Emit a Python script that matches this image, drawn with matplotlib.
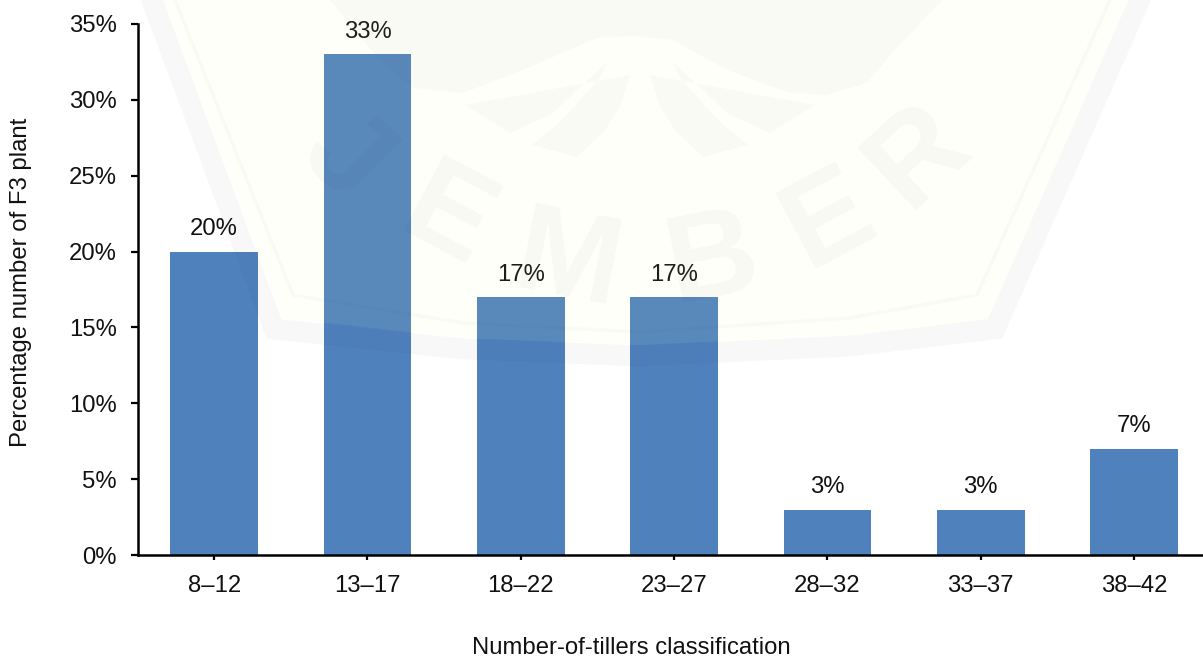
import matplotlib
matplotlib.use("Agg")
import matplotlib.pyplot as plt

categories = ["8–12", "13–17", "18–22", "23–27", "28–32", "33–37", "38–42"]
values = [20, 33, 17, 17, 3, 3, 7]
y_ticks = [0, 5, 10, 15, 20, 25, 30, 35]

# marca d'água: contornos em pixels da imagem original
shield_fill = [(1128, 0), (988, 320), (850, 335), (640, 345), (463, 338), (283, 318), (163, 0)]
shield_band = [(1142, -5), (995, 329), (850, 346), (640, 356), (463, 349), (274, 329), (150, -5)]
shield_line = [(1110, 0), (977, 295), (850, 318), (640, 332), (463, 323), (293, 295), (175, 0)]
ribbon = [(330, 0), (377, 57), (413, 88), (463, 93), (530, 67), (597, 38), (634, 36), (673, 40),
          (727, 70), (790, 93), (827, 95), (867, 83), (897, 47), (943, 0)]
wing_a = [(815, 105), (770, 133), (727, 113), (673, 62), (680, 78), (720, 122), (748, 145),
          (703, 157), (677, 133), (660, 107), (650, 75)]
wing_b = [(1280 - px, py) for px, py in wing_a]
letters = [("J", 353, 150, -45), ("E", 453, 210, -28), ("M", 570, 253, -11),
           ("B", 710, 250, 11), ("E", 823, 210, 28), ("R", 910, 147, 43)]

plt.rcParams["font.family"] = ["Liberation Sans", "DejaVu Sans"]
font_size = 17.2

fig = plt.figure(figsize=(12.03, 6.57), dpi=100)
# eixos posicionados em pixels da imagem original
ax = fig.add_axes([137.5 / 1203, 1 - 555.3 / 657, (1203 - 137.5) / 1203, (555.3 - 23.7) / 657])

x = list(range(len(categories)))
ax.bar(x, values, width=0.572, color="#4f81bd")

for xi, v in zip(x, values):
    ax.text(xi, v + 1.09, f"{v}%", ha="center", va="baseline", fontsize=font_size, color="#111111")

ax.set_xlim(-0.5, (1203 - 214) / 153.33)
ax.set_ylim(0, 35)
ax.set_xticks(x)
ax.set_xticklabels(categories)
ax.set_yticks(y_ticks)
ax.set_yticklabels([f"{t}%" for t in y_ticks])
ax.tick_params(axis="y", labelsize=font_size, length=5.2, width=1.6, direction="out", pad=9.5, labelcolor="#111111")
ax.tick_params(axis="x", labelsize=font_size, length=3.5, width=1.6, direction="out", pad=11, labelcolor="#111111")

ax.spines["top"].set_visible(False)
ax.spines["right"].set_visible(False)
ax.spines["left"].set_linewidth(1.8)
ax.spines["bottom"].set_linewidth(1.8)

fig.text(631 / 1203, 1 - 647.5 / 657, "Number-of-tillers classification", ha="center", va="center", fontsize=font_size, color="#111111")
fig.text(21.5 / 1203, 1 - 282 / 657, "Percentage number of F3 plant", rotation=90, ha="center", va="center", fontsize=font_size, color="#111111")

# Camada da marca d'água por cima de tudo, quase transparente
wm = fig.add_axes([0, 0, 1, 1], facecolor="none")
wm.set_xlim(0, 1203)
wm.set_ylim(657, 0)
wm.axis("off")
grey = (0.25, 0.27, 0.4)
wm.fill(*zip(*shield_fill), color=(1.0, 1.0, 0.65), alpha=0.06, lw=0)
wm.plot(*zip(*shield_band), color=grey, alpha=0.035, lw=15, solid_joinstyle="miter")
wm.plot(*zip(*shield_line), color=grey, alpha=0.025, lw=2.5, solid_joinstyle="miter")
wm.fill(*zip(*ribbon), color=grey, alpha=0.025, lw=0)
wm.fill(*zip(*wing_a), color=grey, alpha=0.025, lw=0)
wm.fill(*zip(*wing_b), color=grey, alpha=0.025, lw=0)
for ch, px, py, rot in letters:
    wm.text(px, py, ch, fontsize=90, fontweight="bold", color=grey, alpha=0.035,
            rotation=rot, rotation_mode="anchor", ha="center", va="center_baseline")

fig.savefig("out.png", dpi=100)
